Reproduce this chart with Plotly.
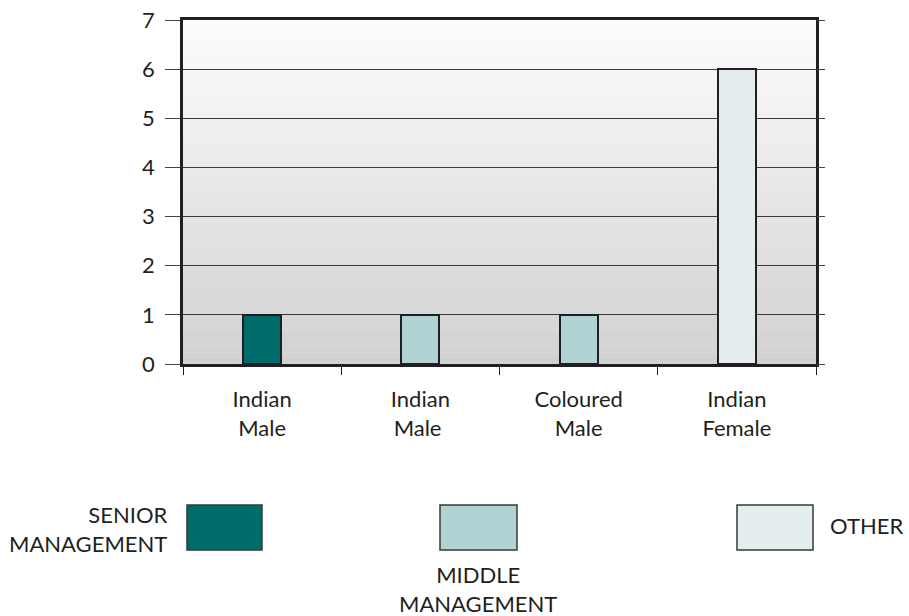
import plotly.graph_objects as go

# ---- data ----
categories = ["Indian<br>Male", "Indian<br>Male ", "Coloured<br>Male", "Indian<br>Female"]
values = [1, 1, 1, 6]
groups = ["SENIOR MANAGEMENT", "MIDDLE MANAGEMENT", "MIDDLE MANAGEMENT", "OTHER"]
group_colors = {
    "SENIOR MANAGEMENT": "#006b6b",
    "MIDDLE MANAGEMENT": "#b2d3d4",
    "OTHER": "#e4eeef",
}
y_ticks = [0, 1, 2, 3, 4, 5, 6, 7]

W, H = 909, 616
L, R, T, B = 183, 93, 20, 252
PW, PH = W - L - R, H - T - B
INK = "#231f20"
FONT = "Lato"
FS = 22


def px(xp):
    return (xp - L) / PW


def py(yp):
    return (H - B - yp) / PH


fig = go.Figure()
fig.add_trace(go.Bar(
    x=categories, y=values,
    marker=dict(color=[group_colors[g] for g in groups], line=dict(color=INK, width=2)),
    width=0.24, showlegend=False, hoverinfo="x+y",
))
# invisible trace to carry the right-hand tick axis
fig.add_trace(go.Scatter(x=[categories[0]], y=[0], yaxis="y2", mode="markers",
                         marker=dict(opacity=0), showlegend=False, hoverinfo="skip"))

shapes = []
# gradient plot background
n = 60
top = (253, 253, 253)
bot = (209, 209, 209)
for i in range(n):
    t = (i + 0.5) / n
    c = tuple(round(top[k] + (bot[k] - top[k]) * t) for k in range(3))
    shapes.append(dict(type="rect", xref="x domain", yref="y domain",
                       x0=0, x1=1, y0=1 - (i + 1) / n, y1=1 - i / n + 0.001,
                       fillcolor="rgb(%d,%d,%d)" % c, line=dict(width=0), layer="below"))

# legend boxes
legend_boxes = [
    ("SENIOR MANAGEMENT", 187, 262),
    ("MIDDLE MANAGEMENT", 440, 517),
    ("OTHER", 737, 813),
]
for g, x0, x1 in legend_boxes:
    shapes.append(dict(type="rect", xref="paper", yref="paper",
                       x0=px(x0), x1=px(x1), y0=py(550), y1=py(505),
                       fillcolor=group_colors[g], line=dict(color="#3a3a3a", width=1.5)))

LEG_FONT = dict(family=FONT, size=FS, color=INK)
annotations = [
    dict(text="SENIOR<br>MANAGEMENT", x=px(170), y=py(529), xref="paper", yref="paper",
         xanchor="right", yanchor="middle", align="right", showarrow=False, font=LEG_FONT),
    dict(text="MIDDLE<br>MANAGEMENT", x=px(478), y=py(589), xref="paper", yref="paper",
         xanchor="center", yanchor="middle", align="center", showarrow=False, font=LEG_FONT),
    dict(text="OTHER", x=px(828), y=py(525), xref="paper", yref="paper",
         xanchor="left", yanchor="middle", align="left", showarrow=False, font=LEG_FONT),
]

fig.update_layout(
    width=W, height=H,
    margin=dict(l=L, r=R, t=T, b=B),
    paper_bgcolor="white", plot_bgcolor="rgba(0,0,0,0)",
    font=dict(family=FONT, size=FS, color=INK),
    shapes=shapes, annotations=annotations,
    bargap=0,
    xaxis=dict(
        type="category", categoryorder="array", categoryarray=categories,
        tickson="boundaries", ticks="outside", ticklen=8, tickwidth=1, tickcolor=INK,
        showline=True, linecolor=INK, linewidth=2.5, mirror=True,
        showgrid=False, tickfont=dict(size=FS), ticklabelstandoff=14, automargin=False,
    ),
    yaxis=dict(
        range=[0, 7], tickvals=y_ticks, ticks="outside", ticklen=15, tickwidth=1,
        tickcolor="#444", showline=True, linecolor=INK, linewidth=2.5, mirror=True,
        showgrid=True, gridcolor="#3a3a3a", gridwidth=1, zeroline=False,
        tickfont=dict(size=FS), ticklabelstandoff=6, automargin=False,
    ),
    yaxis2=dict(
        range=[0, 7], tickvals=y_ticks, overlaying="y", side="right",
        ticks="outside", ticklen=8, tickwidth=1, tickcolor="#444",
        showticklabels=False, showgrid=False, zeroline=False, showline=False,
        automargin=False,
    ),
)

fig.write_html("out.html")
